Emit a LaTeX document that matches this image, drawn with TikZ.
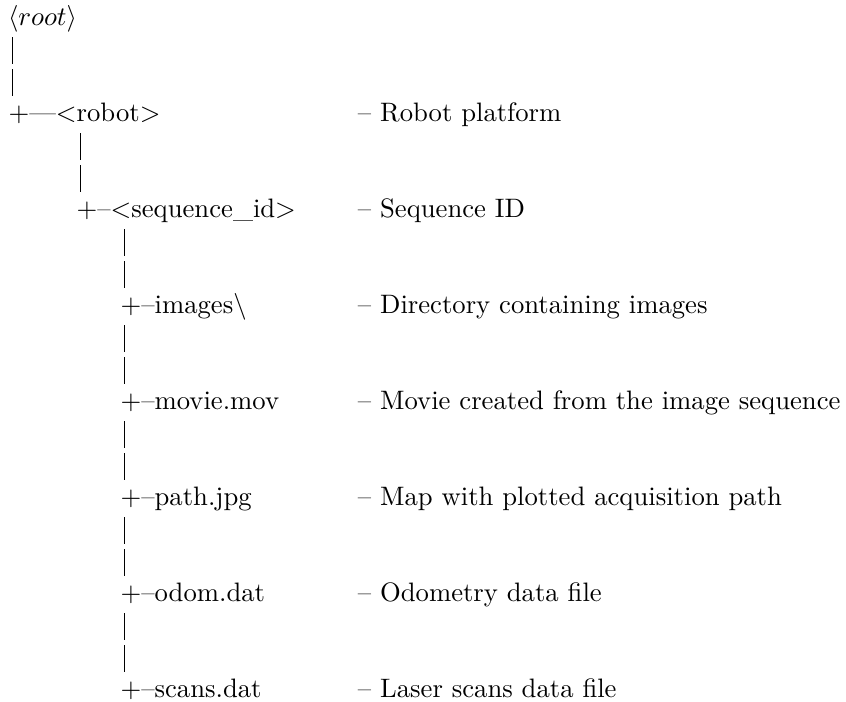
\documentclass[tikz,border=0pt]{standalone}
\usetikzlibrary{calc}
\begin{document}
\begin{tikzpicture}

\tikzset{entry/.style = {anchor=base west, inner sep=0pt, outer sep=0pt}}
\tikzset{bar/.style = {line width=0.4pt, dash pattern=on 10pt off 2pt}}
\useasboundingbox (0,0) rectangle (317.2pt,-262.9pt);
%tree
\node[entry] (root) at (3pt,-9.4pt) {$\langle root\rangle$};
\node[entry] (robot) at (3.2pt,-45.4pt) {+---<robot>};
\node[entry] (seq) at (28.7pt,-81.4pt) {+--<sequence\_id>};
\node[entry] (images) at (45.2pt,-117.4pt) {+--images\textbackslash};
\node[entry] (movie) at (45.2pt,-153.4pt) {+--movie.mov};
\node[entry] (path) at (45.2pt,-189.4pt) {+--path.jpg};
\node[entry] (odom) at (45.2pt,-225.4pt) {+--odom.dat};
\node[entry] (scans) at (45.2pt,-261.4pt) {+--scans.dat};
%descriptions
\node[entry] (robotd) at (134.2pt,-45.4pt) {-- Robot platform};
\node[entry] (seqd) at (134.2pt,-81.4pt) {-- Sequence ID};
\node[entry] (imagesd) at (134.2pt,-117.4pt) {-- Directory containing images};
\node[entry] (movied) at (134.2pt,-153.4pt) {-- Movie created from the image sequence};
\node[entry] (pathd) at (134.2pt,-189.4pt) {-- Map with plotted acquisition path};
\node[entry] (odomd) at (134.2pt,-225.4pt) {-- Odometry data file};
\node[entry] (scansd) at (134.2pt,-261.4pt) {-- Laser scans data file};
%bars
\draw[bar] ($(robot.base west |- root.base)+(1.39pt,-4.5pt)$) -- ([shift={(1.39pt,9.5pt)}]robot.base west);
\draw[bar] ($(seq.base west |- robot.base)+(1.39pt,-4.5pt)$) -- ([shift={(1.39pt,9.5pt)}]seq.base west);
\draw[bar] ($(images.base west |- seq.base)+(1.39pt,-4.5pt)$) -- ([shift={(1.39pt,9.5pt)}]images.base west);
\draw[bar] ([shift={(1.39pt,-4.5pt)}]images.base west) -- ([shift={(1.39pt,9.5pt)}]movie.base west);
\draw[bar] ([shift={(1.39pt,-4.5pt)}]movie.base west) -- ([shift={(1.39pt,9.5pt)}]path.base west);
\draw[bar] ([shift={(1.39pt,-4.5pt)}]path.base west) -- ([shift={(1.39pt,9.5pt)}]odom.base west);
\draw[bar] ([shift={(1.39pt,-4.5pt)}]odom.base west) -- ([shift={(1.39pt,9.5pt)}]scans.base west);
\end{tikzpicture}
\end{document}
